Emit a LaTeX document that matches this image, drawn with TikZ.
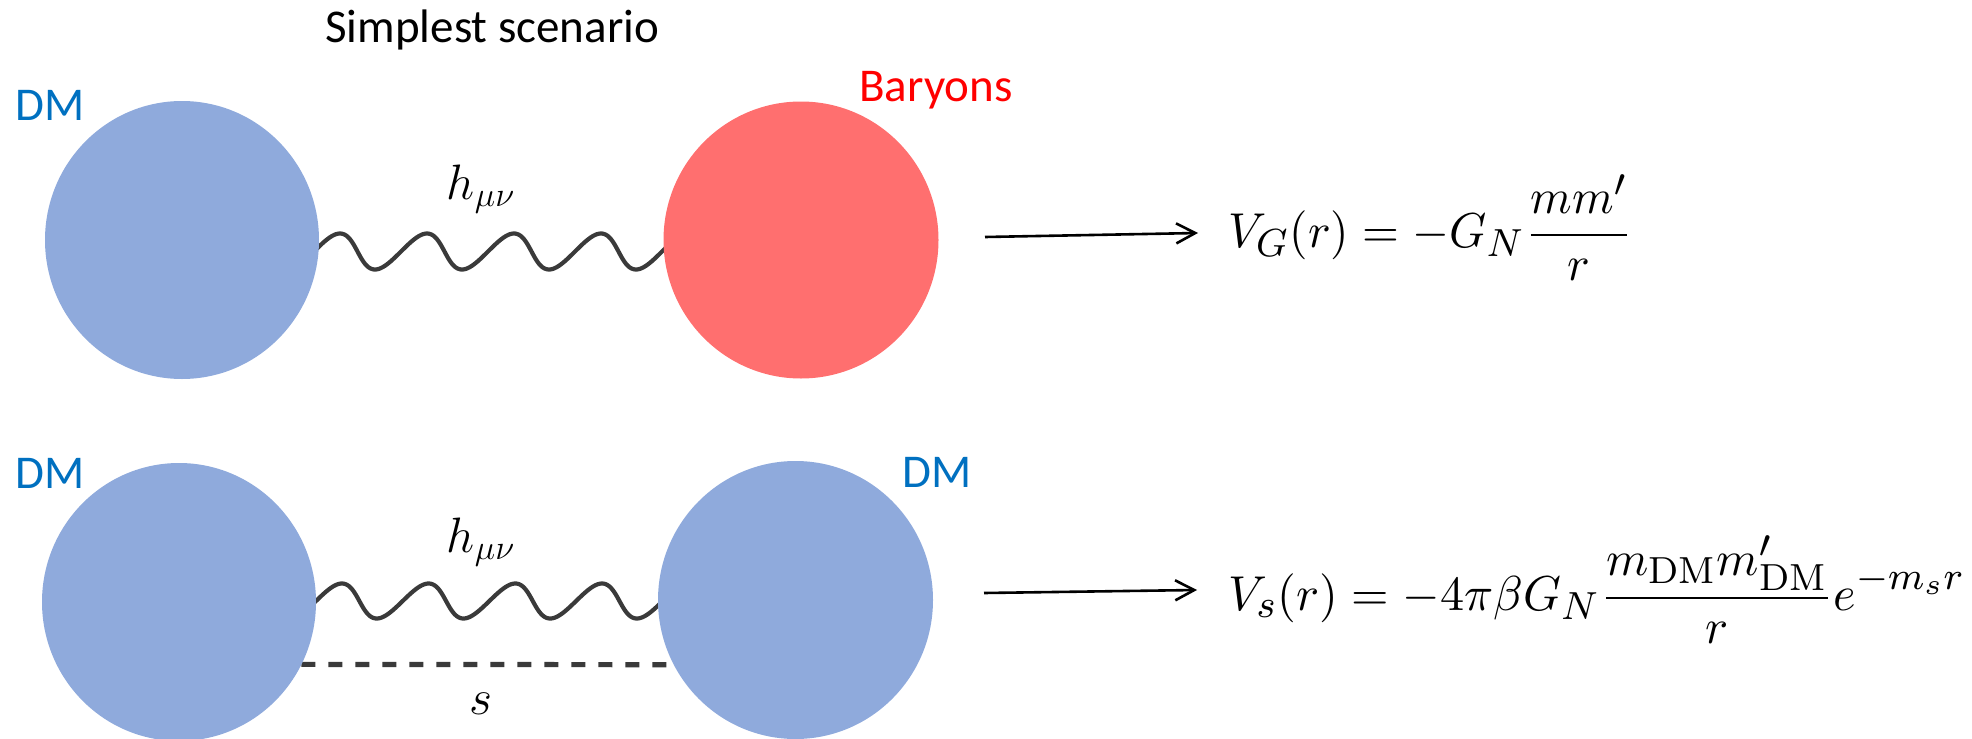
\documentclass[tikz,border=0pt]{standalone}
\usepackage{graphicx}
\usepackage{fontspec}
\newfontfamily\calibri{Carlito}
\DeclareMathSizes{10}{10}{7.7}{5.8}
\usetikzlibrary{shapes.geometric,arrows.meta}
\definecolor{dmfill}{HTML}{8FAADC}
\definecolor{barfill}{HTML}{FF6F6F}
\definecolor{dmtext}{HTML}{0070C0}
\definecolor{bartext}{HTML}{FF0000}
\definecolor{wavecol}{HTML}{3A3A3A}
\newcommand{\bigmath}[2]{\scalebox{#1}[2.45]{\fontsize{10}{12}\selectfont$\displaystyle #2$}}
\begin{document}
\begin{tikzpicture}[x=0.5pt,y=-0.5pt,
  blob/.style={ellipse, inner sep=0pt, outer sep=0pt, draw=none},
  lbl/.style={font=\calibri\fontsize{23.5}{28}\selectfont, inner sep=0pt, anchor=base west},
  mathlbl/.style={font=\fontsize{24.5}{29}\selectfont, inner sep=0pt},
  wave/.style={draw=wavecol, line width=2.1pt, line join=round},
  dashline/.style={draw=wavecol, line width=2.6pt, dash pattern=on 7pt off 6.5pt},
  arr/.style={line width=1.3pt, -{Straight Barb[length=9.5pt,width=10pt,line width=1.3pt]}}]
\useasboundingbox (0,0) rectangle (1972,739);
% circle nodes
\path (182,240) node[blob, minimum width=137pt, minimum height=139pt] (dmA) {};
\path (801,240) node[blob, minimum width=137.5pt, minimum height=138.5pt] (bar) {};
\path (179,602) node[blob, minimum width=137pt, minimum height=139pt] (dmB) {};
\path (795.5,600) node[blob, minimum width=137.5pt, minimum height=139pt] (dmC) {};
% graviton lines
\draw[wave, shift={(dmA.center)}] plot[domain=-0.3:25.43, samples=300, variable=\t]
  ({132 + 87*\t/(2*pi) + 4.25*sin(\t r)}, {11.5 - 18*sin(\t r)});
\draw[wave, shift={(dmB.center)}] plot[domain=-0.2:25.43, samples=300, variable=\t]
  ({137 + 86.7*\t/(2*pi) + 4.25*sin(\t r)}, {-1 - 17.5*sin(\t r)});
% scalar line
\draw[dashline] (dmB.-27.4) -- (dmC.-152.3);
% filled circles on top
\fill[dmfill] (dmA.center) ellipse[x radius=137, y radius=139];
\fill[barfill] (bar.center) ellipse[x radius=137.5, y radius=138.5];
\fill[dmfill] (dmB.center) ellipse[x radius=137, y radius=139];
\fill[dmfill] (dmC.center) ellipse[x radius=137.5, y radius=139];
% labels
\node[lbl] (title) at (325,42) {Simplest scenario};
\node[lbl, text=dmtext] (lA) at (15,120) {DM};
\node[lbl, text=bartext] (lBar) at (859,101) {Baryons};
\node[lbl, text=dmtext] (lB) at (15,488) {DM};
\node[lbl, text=dmtext] (lC) at (902,487) {DM};
\node[mathlbl, anchor=base] (hA) at (481,199) {$h_{\mu\nu}$};
\node[mathlbl, anchor=base] (hB) at (481,552) {$h_{\mu\nu}$};
\node[mathlbl, anchor=base] (sB) at (481,714) {$s$};
% equations
\node[inner sep=0pt, anchor=base west] (eqG) at (1228,247) {\bigmath{2.37}{V_G(r) = -G_N\frac{mm'}{r}}};
\node[inner sep=0pt, anchor=base west] (eqS) at (1228,610) {\bigmath{2.41}{V_s(r) = -4\pi\beta G_N\frac{m_{\mathrm{DM}}m'_{\mathrm{DM}}}{r}e^{-m_s r}}};
% arrows
\coordinate (a1s) at (985,237);
\coordinate (a1e) at (1198,233);
\coordinate (a2s) at (984,593);
\coordinate (a2e) at (1197,590);
\draw[arr] (a1s) -- (a1e);
\draw[arr] (a2s) -- (a2e);
\end{tikzpicture}
\end{document}
